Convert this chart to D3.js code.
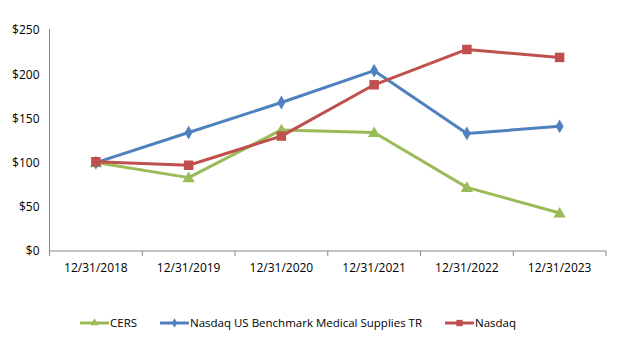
<!DOCTYPE html>
<html><head><meta charset="utf-8">
<script src="https://cdn.jsdelivr.net/npm/d3@7"></script>
<style>
html,body{margin:0;padding:0;background:#fff;}
text{font-family:"Open Sans",sans-serif;fill:#000;}
</style></head>
<body><svg id="c" width="621" height="344"></svg>
<script>
const categories = ["12/31/2018","12/31/2019","12/31/2020","12/31/2021","12/31/2022","12/31/2023"];
const cers = [100, 83, 137, 134, 72, 43];
const medSupplies = [100, 134, 168, 204, 133, 141];
const nasdaq = [101, 97, 130, 188, 228, 219];
const yTicks = [0, 50, 100, 150, 200, 250];
const seriesNames = ["CERS","Nasdaq US Benchmark Medical Supplies TR","Nasdaq"];

const series = [
  {name: seriesNames[0], values: cers, color: "#9BBB59", marker: "triangle"},
  {name: seriesNames[1], values: medSupplies, color: "#4F81BD", marker: "diamond"},
  {name: seriesNames[2], values: nasdaq, color: "#C0504D", marker: "square"}
];

const svg = d3.select("#c");
const mLeft = 49.5, mRight = 606, mTop = 30, mBottom = 251;
const x = d3.scaleBand().domain(categories).range([mLeft, mRight]).padding(0);
const y = d3.scaleLinear().domain([0, 250]).range([mBottom, mTop]);
const cx = c => x(c) + x.bandwidth() / 2;

// y axis
const ya = svg.append("g").attr("transform", `translate(${mLeft},0)`)
  .call(d3.axisLeft(y).tickValues(yTicks).tickFormat(d => "$" + d).tickSize(0).tickPadding(10));
ya.select(".domain").attr("stroke", "#868686").attr("d", `M0,${mTop - 1}V${mBottom}`);
ya.selectAll("text").style("font-size", "12px").style("font-family", "Open Sans");

// x axis
const xa = svg.append("g").attr("transform", `translate(0,${mBottom})`)
  .call(d3.axisBottom(x).tickSize(0).tickPadding(12));
xa.select(".domain").attr("stroke", "#868686").attr("d", `M${mLeft},0H${mRight}`);
xa.selectAll("text").style("font-size", "12px").style("font-family", "Open Sans");
const tickPos = categories.map(c => x(c)).concat([x.range()[1]]);
xa.selectAll("line.tk").data(tickPos).join("line").attr("class", "tk")
  .attr("x1", d => d).attr("x2", d => d).attr("y1", 0).attr("y2", 5)
  .attr("stroke", "#868686");

const sym = {
  triangle: d3.symbol().type(d3.symbolTriangle).size(65),
  diamond: d3.symbol().type(d3.symbolDiamond).size(55),
  square: d3.symbol().type(d3.symbolSquare).size(90)
};
const symSmall = {
  triangle: d3.symbol().type(d3.symbolTriangle).size(28),
  diamond: d3.symbol().type(d3.symbolDiamond).size(26),
  square: d3.symbol().type(d3.symbolSquare).size(40)
};

const line = d3.line().x((d, i) => cx(categories[i])).y(d => y(d));
series.forEach(s => {
  svg.append("path").datum(s.values).attr("d", line)
    .attr("fill", "none").attr("stroke", s.color).attr("stroke-width", 3)
    .attr("stroke-linejoin", "round");
  svg.selectAll(null).data(s.values).join("path")
    .attr("transform", (d, i) => `translate(${cx(categories[i])},${y(d) + (s.marker === "triangle" ? 1 : 0)})`)
    .attr("d", sym[s.marker]).attr("fill", s.color);
});

// legend
const legX = [80, 160, 445];
const legY = 323;
series.forEach((s, i) => {
  const g = svg.append("g").attr("transform", `translate(${legX[i]},${legY})`);
  g.append("line").attr("x1", 0).attr("x2", 29).attr("y1", 0).attr("y2", 0)
    .attr("stroke", s.color).attr("stroke-width", 3);
  g.append("path").attr("transform", `translate(14.5,0)`).attr("d", symSmall[s.marker]).attr("fill", s.color);
  g.append("text").attr("x", 30).attr("y", 0).attr("dy", "0.35em")
    .style("font-size", "11.5px").text(s.name);
});
</script></body></html>
